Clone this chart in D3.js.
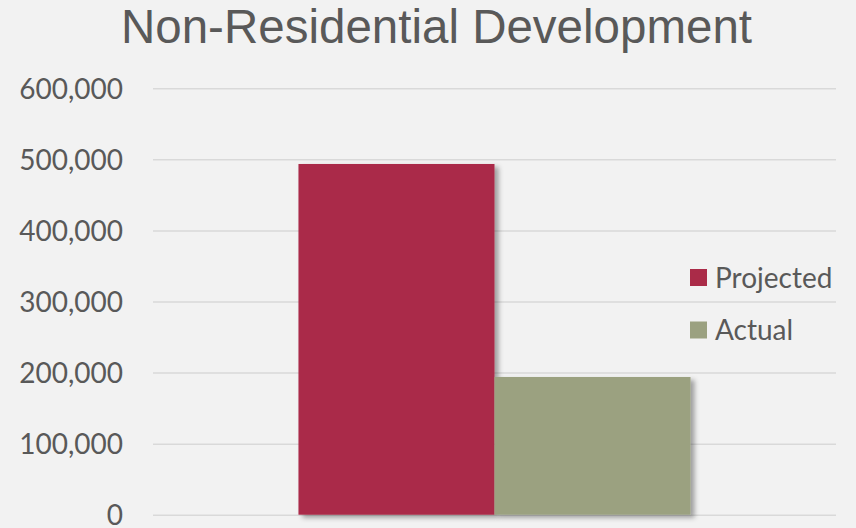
<!DOCTYPE html>
<html>
<head>
<meta charset="utf-8">
<script src="https://cdn.jsdelivr.net/npm/d3@7"></script>
<style>
  html, body { margin: 0; padding: 0; background: #f2f2f2; }
  svg { display: block; }
</style>
</head>
<body>
<div id="chart"></div>
<script>
const categories = ['Non-Residential']
const seriesNames = ['Projected', 'Actual']
const projected = [493500]
const actual = [193800]
const yTicks = [0, 100000, 200000, 300000, 400000, 500000, 600000]
const colors = ['#aa2b48', '#9ba180']

const width = 856
const height = 528
const margin = {top: 88.3, right: 20, bottom: 13.3, left: 153}

const svg = d3.select('#chart').append('svg')
  .attr('width', width)
  .attr('height', height)

svg.append('rect')
  .attr('width', width)
  .attr('height', height)
  .attr('fill', '#f2f2f2')

// drop shadow like the office chart
const defs = svg.append('defs')
defs.append('filter')
  .attr('id', 'shadow')
  .attr('x', '-10%').attr('y', '-10%')
  .attr('width', '130%').attr('height', '130%')
  .append('feDropShadow')
  .attr('dx', 4)
  .attr('dy', 3)
  .attr('stdDeviation', 2.5)
  .attr('flood-color', '#000')
  .attr('flood-opacity', 0.35)

const x0 = d3.scaleBand()
  .domain(categories)
  .range([margin.left, width - margin.right])
  .paddingOuter(0.371)
  .paddingInner(0)

const x1 = d3.scaleBand()
  .domain(seriesNames)
  .range([0, x0.bandwidth()])

const y = d3.scaleLinear()
  .domain([0, 600000])
  .range([height - margin.bottom, margin.top])

// title
svg.append('text')
  .attr('x', 436.5)
  .attr('y', 43)
  .attr('text-anchor', 'middle')
  .attr('font-family', '"Liberation Sans", Arial, sans-serif')
  .attr('font-size', 47.5)
  .attr('fill', '#595959')
  .text('Non-Residential Development')

// y axis with gridlines
svg.append('g')
  .attr('transform', `translate(${margin.left},0)`)
  .call(d3.axisLeft(y)
    .tickValues(yTicks)
    .tickSize(-(width - margin.right - margin.left - 0))
    .tickPadding(30)
    .tickFormat(d3.format(',')))
  .call(g => g.select('.domain').remove())
  .call(g => g.selectAll('.tick line')
    .attr('stroke', '#d9d9d9')
    .attr('stroke-width', 1.5))
  .call(g => g.selectAll('.tick text')
    .attr('fill', '#595959')
    .attr('font-family', 'Lato, sans-serif')
    .attr('font-size', 28)
    .attr('dy', '0.36em'))

const rows = categories.map((c, i) => ({
  category: c,
  values: [
    {name: 'Projected', value: projected[i]},
    {name: 'Actual', value: actual[i]}
  ]
}))

const color = d3.scaleOrdinal().domain(seriesNames).range(colors)

svg.append('g')
  .selectAll('g')
  .data(rows)
  .join('g')
  .attr('transform', d => `translate(${x0(d.category)},0)`)
  .selectAll('rect')
  .data(d => d.values)
  .join('rect')
  .attr('x', d => x1(d.name))
  .attr('y', d => y(d.value))
  .attr('width', x1.bandwidth())
  .attr('height', d => y(0) - y(d.value))
  .attr('fill', d => color(d.name))
  .attr('filter', 'url(#shadow)')

// legend
const legend = svg.append('g')
  .attr('transform', 'translate(690,269)')
  .selectAll('g')
  .data(seriesNames)
  .join('g')
  .attr('transform', (d, i) => `translate(0,${i * 52.5})`)

legend.append('rect')
  .attr('width', 17)
  .attr('height', 17)
  .attr('fill', d => color(d))

legend.append('text')
  .attr('x', 25)
  .attr('y', 8.5)
  .attr('dy', '0.36em')
  .attr('fill', '#595959')
  .attr('font-family', 'Lato, sans-serif')
  .attr('font-size', 28)
  .text(d => d)
</script>
</body>
</html>
